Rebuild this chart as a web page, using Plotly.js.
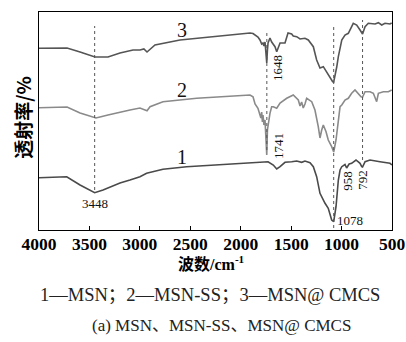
<!DOCTYPE html>
<html>
<head>
<meta charset="utf-8">
<script src="https://cdn.plot.ly/plotly-3.0.1.min.js"></script>
<style>html,body{margin:0;padding:0;background:#fff;}#chart{width:406px;height:342px;}</style>
</head>
<body>
<div id="chart"></div>
<script>
// Wavenumber (cm-1) and transmittance (arbitrary, offset) values
const wn3 = [4000,3722,3593,3445,3316,3197,3068,2999,2960,2929,2850,2602,2305,2106,1908,1878,1829,1809,1792,1779,1770,1759,1749,1742,1735,1729,1710,1693,1660,1643,1610,1594,1561,1531,1495,1479,1445,1412,1363,1330,1280,1247,1214,1181,1148,1115,1088,1078,1065,1048,1032,1015,998,966,933,884,850,817,800,792,767,735,668,635,602,569,520,503];
const t3  = [181.7,182,178,173,173,177,180,180,181,178,185,190,193,195,197,196.5,193,190,186,187,184,188,170,167,180,187,192,188,183.3,178.3,187,187,187,197,196,194,193.3,191,191.7,190,183.3,170,162,163.3,158.3,152,148.3,148,153.3,163,173.3,183.3,190,195,196.7,206.7,205,200,196.7,196,203.3,206.7,206,207.3,205,206.7,206,207];

const wn2 = [4000,3722,3593,3435,3316,3197,3098,2999,2949,2929,2899,2771,2436,2106,1908,1878,1858,1829,1809,1800,1792,1785,1779,1770,1759,1749,1742,1735,1722,1710,1693,1677,1643,1610,1544,1479,1429,1412,1396,1380,1363,1346,1296,1264,1231,1214,1197,1181,1154,1132,1098,1082,1078,1055,1032,1015,998,966,933,900,867,834,807,792,767,718,685,652,635,586,536,503];
const t2  = [122.3,123,117,112,115,118,120,122,120,119.3,123.3,128.3,131.7,134,135,133.3,126,121.7,115,112,118,108,115,105,110,90,75,100,110,116.7,123.3,123.3,121.7,127,131.7,135,130,124,128,122,126,131.7,128.3,120,103.3,92,100,105,98.3,90,83.3,78.3,78,90,110,123.3,125,130,131.7,136.7,140,136.7,133.3,133,138.3,138.3,136.7,128.3,136.7,138.3,138.3,140];

const wn1 = [4000,3725,3593,3448,3365,3197,3098,2999,2933,2800,2771,2536,2436,2305,2106,1829,1729,1677,1643,1610,1561,1495,1445,1395,1363,1313,1280,1247,1214,1164,1132,1098,1078,1055,1032,1015,998,966,950,925,900,857,817,800,792,767,718,619,520,500];
const t1  = [52.3,53.3,45,37.3,40,47,50,53.3,56.7,60,60.7,63.3,64,65,66,68.3,68.3,65,61,63.3,67.7,68.3,69,67.7,69,67.3,63.3,53.3,36.7,26.7,21.7,10,8.3,23.3,50,60,63.3,65.5,62,66,66.7,70,66.7,63.3,63,68.3,70,68.3,66.7,65];

const seriesNames = ['1','2','3'];
const peaks = [3448,1741,1078,792];
const peakTop = [204,198,203,210];
const peakBottom = [40,80,2,70];
const tickVals = [4000,3500,3000,2500,2000,1500,1000,500];

const serif = 'Liberation Serif, Times New Roman, serif';
const traces = [
  {x: wn1, y: t1, name: seriesNames[0], mode: 'lines', line: {color: '#4a4a4a', width: 1.6}},
  {x: wn2, y: t2, name: seriesNames[1], mode: 'lines', line: {color: '#8a8a8a', width: 1.6}},
  {x: wn3, y: t3, name: seriesNames[2], mode: 'lines', line: {color: '#555555', width: 1.6}}
];

const shapes = peaks.map((p, i) => ({
  type: 'line', xref: 'x', yref: 'y', x0: p, x1: p, y0: peakBottom[i], y1: peakTop[i],
  line: {color: '#555', width: 1, dash: 'dot'}
}));

const ann = (x, y, text, opts) => Object.assign({x, y, xref: 'x', yref: 'y', text, showarrow: false,
  font: {family: serif, size: 13, color: '#111'}}, opts || {});

const annotations = [
  ann(3448, 27, '3448'),
  ann(1630, 84, '1741', {textangle: -90}),
  ann(1640, 162, '1648', {textangle: -90}),
  ann(949, 49, '958', {textangle: -90}),
  ann(800, 50, '792', {textangle: -90}),
  ann(916, 10, '1078'),
  ann(2585, 200, seriesNames[2], {font: {family: serif, size: 20, color: '#111'}}),
  ann(2585, 140, seriesNames[1], {font: {family: serif, size: 20, color: '#111'}}),
  ann(2585, 73, seriesNames[0], {font: {family: serif, size: 20, color: '#111'}}),
  {xref: 'paper', yref: 'paper', x: 0.49, y: -0.15, xanchor: 'center', yanchor: 'middle', showarrow: false,
   text: '<b>波数/cm<sup>-1</sup></b>', font: {family: serif + ', Noto Sans CJK SC', size: 16, color: '#000'}},
  {xref: 'paper', yref: 'paper', x: -0.045, y: 0.515, xanchor: 'center', yanchor: 'middle', showarrow: false,
   textangle: -90, text: '<b>透射率/%</b>', font: {family: 'Noto Sans CJK SC, ' + serif, size: 19, color: '#000'}},
  {xref: 'paper', yref: 'paper', x: 0.484, y: -0.298, xanchor: 'center', yanchor: 'middle', showarrow: false,
   text: '1—MSN；2—MSN-SS；3—MSN@ CMCS', font: {family: serif + ', Noto Sans CJK SC', size: 18.5, color: '#222'}},
  {xref: 'paper', yref: 'paper', x: 0.516, y: -0.44, xanchor: 'center', yanchor: 'middle', showarrow: false,
   text: '(a) MSN、MSN-SS、MSN@ CMCS', font: {family: serif + ', Noto Sans CJK SC', size: 17, color: '#222'}}
];

const layout = {
  width: 406, height: 342,
  margin: {l: 39, r: 14, t: 12, b: 112},
  paper_bgcolor: '#fff', plot_bgcolor: '#fff',
  showlegend: false,
  xaxis: {
    range: [4000, 500], tickvals: tickVals, ticktext: tickVals.map(v => '<b>' + v + '</b>'),
    ticks: 'inside', ticklen: 4, tickwidth: 1, tickcolor: '#000',
    ticklabeloverflow: 'allow', ticklabelstandoff: -2,
    showline: true, linecolor: '#000', linewidth: 1, mirror: true,
    showgrid: false, zeroline: false,
    tickfont: {family: serif, size: 17.5, color: '#000'}
  },
  yaxis: {
    range: [0, 218], showticklabels: false, ticks: '',
    showline: true, linecolor: '#000', linewidth: 1, mirror: true,
    showgrid: false, zeroline: false
  },
  shapes, annotations
};

Plotly.newPlot('chart', traces, layout, {displayModeBar: false, staticPlot: true});
</script>
</body>
</html>
